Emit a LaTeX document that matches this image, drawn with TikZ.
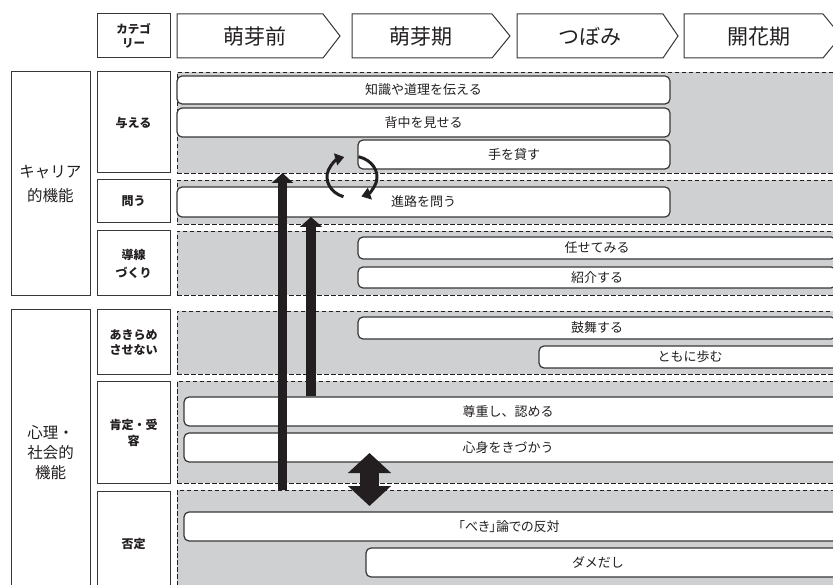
\documentclass[tikz,border=0pt]{standalone}
\usepackage{fontspec}
\setmainfont{Noto Sans CJK JP}
\usetikzlibrary{arrows.meta}
\definecolor{rowgray}{RGB}{207,208,210}
\definecolor{ink}{RGB}{35,31,32}
\definecolor{edge}{RGB}{55,55,55}
\begin{document}
\begin{tikzpicture}[x=1pt,y=-1pt,
  box/.style={draw=edge, line width=1pt, fill=white, inner sep=0pt, outer sep=0pt, text=ink},
  catlabel/.style={box, font=\fontsize{12}{15}\selectfont\bfseries, align=center},
  sidelabel/.style={box, font=\fontsize{15.5}{24}\selectfont, align=center},
  rowband/.style={draw=ink, fill=rowgray, dashed, dash pattern=on 4.5pt off 2.5pt, line width=0.9pt, inner sep=0pt, outer sep=0pt, minimum width=673pt},
  item/.style={draw=edge, fill=white, rounded corners=5pt, line width=1.2pt, inner sep=0pt, outer sep=0pt, text=ink, font=\fontsize{13}{15}\selectfont},
  phase/.style={draw=edge, line width=1pt, fill=white},
  phasetext/.style={text=ink, font=\fontsize{21}{24}\selectfont, inner sep=0pt},
  bigarrow/.style={draw=ink},
  cycarrow/.style={draw=ink, line width=3pt, -{Triangle[width=12pt,length=9pt]}}
]
\useasboundingbox (0,0) rectangle (833,585);
\clip (0,0) rectangle (833,585);

% header
\node[catlabel, minimum width=73pt, minimum height=44pt, font=\fontsize{11.5}{13.5}\selectfont\bfseries] (cathead) at (133.5,36) {カテゴ\\リー};
\draw[phase] (177,14) -- (323,14) -- (340,36) -- (323,58) -- (177,58) -- cycle;
\draw[phase] (352,14) -- (492,14) -- (510,36) -- (492,58) -- (352,58) -- cycle;
\draw[phase] (517,14) -- (663,14) -- (678,36) -- (663,58) -- (517,58) -- cycle;
\draw[phase] (684,14) -- (823,14) -- (841,36) -- (823,58) -- (684,58) -- cycle;
\node[phasetext] (p1) at (255,36.5) {萌芽前};
\node[phasetext] (p2) at (421,36.5) {萌芽期};
\node[phasetext] (p3) at (590,36.5) {つぼみ};
\node[phasetext] (p4) at (759,36.5) {開花期};

% left column
\node[sidelabel, minimum width=79pt, minimum height=224pt] (career) at (50.5,184) {キャリア\\的機能};
\node[sidelabel, minimum width=79pt, minimum height=286pt, font=\fontsize{15.5}{20}\selectfont] (psych) at (50.5,453) {心理・\\社会的\\機能};

% category boxes
\node[catlabel, minimum width=73pt, minimum height=101pt] (c1) at (133.5,122.5) {与える};
\node[catlabel, minimum width=73pt, minimum height=43pt] (c2) at (133.5,201.5) {問う};
\node[catlabel, minimum width=73pt, minimum height=65pt, font=\fontsize{12}{18}\selectfont\bfseries] (c3) at (133.5,263.5) {導線\\づくり};
\node[catlabel, minimum width=73pt, minimum height=65pt] (c4) at (133.5,342.5) {あきらめ\\させない};
\node[catlabel, minimum width=73pt, minimum height=101pt, font=\fontsize{12}{16}\selectfont\bfseries] (c5) at (133.5,432.5) {肯定・受\\容};
\node[catlabel, minimum width=73pt, minimum height=105pt] (c6) at (133.5,543.5) {否定};

% grey bands
\node[rowband, minimum height=101pt] (r1) at (513.5,122.5) {};
\node[rowband, minimum height=44pt] (r2) at (513.5,202) {};
\node[rowband, minimum height=64pt] (r3) at (513.5,263) {};
\node[rowband, minimum height=63pt] (r4) at (513.5,342.5) {};
\node[rowband, minimum height=102pt] (r5) at (513.5,432) {};
\node[rowband, minimum height=110pt] (r6) at (513.5,545) {};

% items
\node[item, minimum width=493pt, minimum height=28pt] (i1) at (423.5,90) {知識や道理を伝える};
\node[item, minimum width=493pt, minimum height=29pt] (i2) at (423.5,122.5) {背中を見せる};
\node[item, minimum width=312pt, minimum height=29pt] (i3) at (514,154.5) {手を貸す};
\node[item, minimum width=493pt, minimum height=30pt] (i4) at (423.5,202) {進路を問う};
\node[item, minimum width=478pt, minimum height=22pt] (i5) at (597,248) {任せてみる};
\node[item, minimum width=478pt, minimum height=21pt] (i6) at (597,277.5) {紹介する};
\node[item, minimum width=478pt, minimum height=22pt] (i7) at (597,328) {鼓舞する};
\node[item, minimum width=302pt, minimum height=22pt] (i8) at (690,357) {ともに歩む};
\node[item, minimum width=656pt, minimum height=29pt] (i9) at (512,411.5) {尊重し、認める\hspace*{8pt}};
\node[item, minimum width=656pt, minimum height=29pt] (i10) at (512,447.5) {心身をきづかう\hspace*{8pt}};
\node[item, minimum width=656pt, minimum height=29pt] (i11) at (512,526.5) {\addfontfeature{RawFeature=+palt}「べき」論での反対\hspace*{6pt}};
\node[item, minimum width=474pt, minimum height=29pt] (i12) at (603,562.5) {ダメだし\hspace*{10pt}};

% arrows
\coordinate (a1s) at (282.5,490);
\coordinate (a1e) at (282.5,173);
\coordinate (a2s) at (311,396);
\coordinate (a2e) at (311,217);
\coordinate (d1) at (369.5,453);
\coordinate (d2) at (369.5,506);
\draw[bigarrow, line width=9.5pt, -{Triangle[width=21pt,length=10pt]}] (a1s) -- (a1e);
\draw[bigarrow, line width=10pt, -{Triangle[width=22pt,length=10pt]}] (a2s) -- (a2e);
\draw[bigarrow, line width=19pt, {Triangle[width=42pt,length=20pt]}-{Triangle[width=42pt,length=20pt]}] (d1) -- (d2);

% cycle
\coordinate (cyc) at (352,177);
\draw[cycarrow] (cyc) ++(250:25pt and 21pt) arc[start angle=250, end angle=108, x radius=25pt, y radius=21pt];
\draw[cycarrow] (cyc) ++(75:25pt and 21pt) arc[start angle=75, end angle=-68, x radius=25pt, y radius=21pt];
\end{tikzpicture}
\end{document}
